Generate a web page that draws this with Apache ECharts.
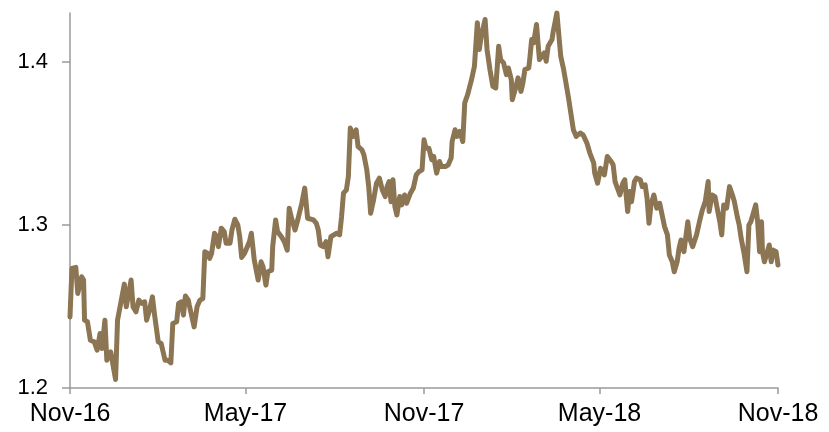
<!DOCTYPE html>
<html>
<head>
<meta charset="utf-8">
<script src="https://cdn.jsdelivr.net/npm/echarts@6/dist/echarts.min.js"></script>
<style>
html,body{margin:0;padding:0;background:#fff;}
#chart{width:829px;height:432px;}
</style>
</head>
<body>
<div id="chart"></div>
<script>
const dates = [
'2016-11-01','2016-11-03','2016-11-07','2016-11-09','2016-11-13','2016-11-15','2016-11-16','2016-11-19','2016-11-22','2016-11-26',
'2016-11-29','2016-12-02','2016-12-04','2016-12-07','2016-12-09','2016-12-13','2016-12-18','2016-12-20','2016-12-22','2016-12-27',
'2016-12-29','2017-01-03','2017-01-05','2017-01-08','2017-01-11','2017-01-14','2017-01-17','2017-01-19','2017-01-22','2017-01-25',
'2017-01-27','2017-01-29','2017-01-31','2017-02-03','2017-02-07','2017-02-10','2017-02-13','2017-02-15','2017-02-19','2017-02-21',
'2017-02-24','2017-02-26','2017-02-28','2017-03-03','2017-03-04','2017-03-09','2017-03-12','2017-03-15','2017-03-18','2017-03-20',
'2017-03-23','2017-03-25','2017-03-27','2017-03-30','2017-04-01','2017-04-03','2017-04-06','2017-04-09','2017-04-11','2017-04-15',
'2017-04-17','2017-04-20','2017-04-23','2017-04-25','2017-04-27','2017-04-30','2017-05-05','2017-05-07','2017-05-09','2017-05-10',
'2017-05-14','2017-05-17','2017-05-19','2017-05-22','2017-05-24','2017-05-28','2017-05-29','2017-06-01','2017-06-03','2017-06-07',
'2017-06-10','2017-06-13','2017-06-15','2017-06-17','2017-06-21','2017-06-24','2017-06-28','2017-07-01','2017-07-03','2017-07-04',
'2017-07-10','2017-07-13','2017-07-15','2017-07-17','2017-07-20','2017-07-23','2017-07-25','2017-07-28','2017-08-03','2017-08-06',
'2017-08-08','2017-08-10','2017-08-13','2017-08-15','2017-08-17','2017-08-20','2017-08-23','2017-08-25','2017-08-29','2017-08-31',
'2017-09-03','2017-09-05','2017-09-07','2017-09-10','2017-09-13','2017-09-16','2017-09-19','2017-09-22','2017-09-24','2017-09-26',
'2017-09-28','2017-09-30','2017-10-02','2017-10-04','2017-10-07','2017-10-09','2017-10-12','2017-10-14','2017-10-18','2017-10-21',
'2017-10-24','2017-10-27','2017-10-30','2017-11-01','2017-11-03','2017-11-06','2017-11-09','2017-11-11','2017-11-14','2017-11-17',
'2017-11-19','2017-11-23','2017-11-26','2017-11-29','2017-11-30','2017-12-03','2017-12-05','2017-12-08','2017-12-11','2017-12-13',
'2017-12-16','2017-12-20','2017-12-23','2017-12-26','2017-12-28','2017-12-30','2018-01-03','2018-01-05','2018-01-08','2018-01-11',
'2018-01-14','2018-01-17','2018-01-19','2018-01-22','2018-01-25','2018-01-27','2018-01-30','2018-01-31','2018-02-03','2018-02-06',
'2018-02-09','2018-02-11','2018-02-13','2018-02-17','2018-02-18','2018-02-20','2018-02-22','2018-02-25','2018-02-28','2018-03-02',
'2018-03-05','2018-03-07','2018-03-09','2018-03-13','2018-03-14','2018-03-18','2018-03-19','2018-03-22','2018-03-25','2018-03-27',
'2018-03-30','2018-04-01','2018-04-04','2018-04-07','2018-04-11','2018-04-14','2018-04-18','2018-04-21','2018-04-25','2018-04-26',
'2018-04-29','2018-05-02','2018-05-06','2018-05-09','2018-05-13','2018-05-15','2018-05-17','2018-05-19','2018-05-22','2018-05-25',
'2018-05-27','2018-05-30','2018-06-01','2018-06-03','2018-06-06','2018-06-08','2018-06-12','2018-06-14','2018-06-17','2018-06-19',
'2018-06-21','2018-06-23','2018-06-26','2018-06-29','2018-07-02','2018-07-04','2018-07-07','2018-07-10','2018-07-12','2018-07-15',
'2018-07-17','2018-07-20','2018-07-22','2018-07-24','2018-07-27','2018-07-31','2018-08-02','2018-08-05','2018-08-09','2018-08-12',
'2018-08-15','2018-08-18','2018-08-21','2018-08-22','2018-08-25','2018-08-28','2018-08-30','2018-09-02','2018-09-04','2018-09-06',
'2018-09-09','2018-09-12','2018-09-15','2018-09-17','2018-09-20','2018-09-22','2018-09-24','2018-09-27','2018-09-30','2018-10-02',
'2018-10-04','2018-10-07','2018-10-09','2018-10-11','2018-10-13','2018-10-15','2018-10-16','2018-10-18','2018-10-21','2018-10-23',
'2018-10-25','2018-10-27','2018-10-30','2018-11-01'
];
const rates = [
1.2436,1.2734,1.2740,1.2580,1.2682,1.2662,1.2416,1.2406,1.2293,1.2283,
1.2232,1.2334,1.2242,1.2416,1.2170,1.2221,1.2052,1.2416,1.2416,1.2637,
1.2498,1.2662,1.2498,1.2467,1.2539,1.2519,1.2529,1.2416,1.2478,1.2559,
1.2457,1.2457,1.2283,1.2273,1.2170,1.2170,1.2154,1.2396,1.2406,1.2519,
1.2529,1.2447,1.2564,1.2539,1.2508,1.2375,1.2498,1.2539,1.2549,1.2836,
1.2826,1.2795,1.2826,1.2949,1.2928,1.2867,1.2980,1.2959,1.2888,1.2888,
1.2969,1.3035,1.3000,1.2928,1.2801,1.2826,1.2897,1.2949,1.2959,1.2785,
1.2662,1.2774,1.2744,1.2631,1.2713,1.2723,1.2867,1.3031,1.2959,1.2928,
1.2897,1.2846,1.3103,1.3051,1.2969,1.3035,1.3133,1.3226,1.3226,1.3041,
1.3031,1.3010,1.2969,1.2877,1.2867,1.2897,1.2805,1.2928,1.2949,1.2939,
1.3051,1.3195,1.3215,1.3297,1.3594,1.3543,1.3584,1.3481,1.3461,1.3430,
1.3338,1.3235,1.3072,1.3154,1.3256,1.3287,1.3215,1.3174,1.3235,1.3266,
1.3143,1.3277,1.3112,1.3061,1.3174,1.3123,1.3184,1.3133,1.3195,1.3226,
1.3307,1.3328,1.3338,1.3522,1.3471,1.3471,1.3400,1.3420,1.3318,1.3389,
1.3358,1.3358,1.3369,1.3410,1.3512,1.3584,1.3543,1.3574,1.3512,1.3748,
1.3799,1.3891,1.3973,1.4240,1.4076,1.4157,1.4260,1.4076,1.3953,1.3850,
1.3840,1.4096,1.4014,1.3994,1.3922,1.3963,1.3891,1.3768,1.3830,1.3902,
1.3819,1.3871,1.3953,1.3963,1.4014,1.4137,1.4117,1.4229,1.4014,1.4014,
1.4055,1.4004,1.4096,1.4137,1.4178,1.4301,1.4301,1.4034,1.3953,1.3943,
1.3779,1.3768,1.3584,1.3543,1.3564,1.3553,1.3502,1.3441,1.3379,1.3318,
1.3256,1.3348,1.3307,1.3420,1.3389,1.3369,1.3266,1.3266,1.3184,1.3256,
1.3277,1.3082,1.3205,1.3143,1.3266,1.3287,1.3277,1.3235,1.3246,1.3164,
1.3010,1.3123,1.3184,1.3103,1.3133,1.3123,1.2990,1.2939,1.2816,1.2774,
1.2713,1.2774,1.2857,1.2908,1.2836,1.3020,1.2918,1.2867,1.2939,1.3020,
1.3092,1.3143,1.3266,1.3082,1.3184,1.3174,1.3112,1.3020,1.2939,1.3123,
1.3103,1.3235,1.3184,1.3143,1.3051,1.3000,1.2918,1.2826,1.2713,1.3000,
1.3020,1.3082,1.3123,1.3020,1.2836,1.3020,1.2836,1.2774,1.2836,1.2877,
1.2774,1.2846,1.2836,1.2754
];
const tickDates = ['2016-11-01','2017-05-01','2017-11-01','2018-05-01','2018-11-01'];
const tickLabels = ['Nov-16','May-17','Nov-17','May-18','Nov-18'];
const yTicks = [1.2, 1.3, 1.4];

function toTs(s){ const p = s.split('-').map(Number); return Date.UTC(p[0], p[1]-1, p[2]); }
const tickTs = tickDates.map(toTs);
const seriesData = dates.map((d,i) => [toTs(d), rates[i]]);

const chart = echarts.init(document.getElementById('chart'), null, {renderer:'canvas'});
chart.setOption({
  animation: false,
  backgroundColor: '#ffffff',
  grid: { left: 70, right: 51, top: 13, bottom: 44, containLabel: false },
  xAxis: {
    type: 'value',
    min: tickTs[0],
    max: tickTs[tickTs.length-1],
    axisLine: { show: true, lineStyle: { color: '#9a9a9a', width: 1.5 } },
    axisTick: { show: true, inside: false, length: 6, customValues: tickTs, lineStyle: { color: '#9a9a9a', width: 1.5 } },
    axisLabel: {
      customValues: tickTs,
      color: '#000', fontSize: 25, fontFamily: 'Liberation Sans, Arial, sans-serif',
      margin: 14, hideOverlap: false,
      formatter: function(v){ const i = tickTs.indexOf(v); return i >= 0 ? tickLabels[i] : ''; }
    },
    splitLine: { show: false }
  },
  yAxis: {
    type: 'value',
    min: 1.2, max: 1.43, interval: 0.1,
    axisLine: { show: true, lineStyle: { color: '#9a9a9a', width: 1.5 } },
    axisTick: { show: true, inside: false, length: 8, customValues: yTicks, lineStyle: { color: '#9a9a9a', width: 1.5 } },
    axisLabel: {
      customValues: yTicks,
      color: '#000', fontSize: 22, fontFamily: 'Liberation Sans, Arial, sans-serif',
      margin: 22,
      formatter: function(v){ return Number(v).toFixed(1); }
    },
    splitLine: { show: false }
  },
  series: [{
    type: 'line',
    data: seriesData,
    showSymbol: false,
    symbol: 'none',
    smooth: false,
    lineStyle: { color: '#8B7553', width: 5, join: 'round', cap: 'round' },
    z: 3
  }]
});
</script>
</body>
</html>
